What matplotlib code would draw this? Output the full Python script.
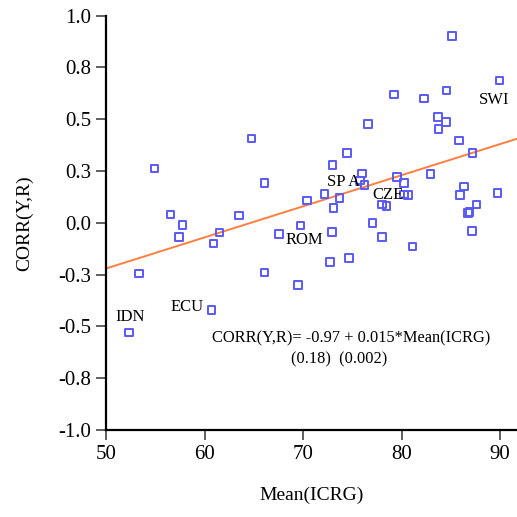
import matplotlib
matplotlib.use("Agg")
import matplotlib.pyplot as plt
import numpy as np

plt.rcParams['font.family'] = ['Liberation Serif', 'DejaVu Serif']

# mean ICRG rating and CORR(Y,R) per country
icrg = [54.88, 56.54, 57.76, 57.39, 61.52, 60.91, 63.51, 53.35, 60.67, 52.28,
        64.77, 66.09, 66.09, 69.45, 69.75, 67.55, 70.42, 72.19, 72.76, 74.69,
        72.96, 73.10, 73.71, 73.00, 74.46, 76.56, 76.01, 75.78, 76.25, 77.03,
        78.01, 78.49, 78.04, 79.54, 80.25, 80.25, 80.68, 81.13, 79.23, 82.31,
        82.96, 83.70, 84.54, 83.77, 84.58, 85.12, 85.86, 87.21, 86.34, 85.91,
        87.63, 86.78, 86.92, 87.16, 89.73, 89.97]
corr = [0.263, 0.041, -0.010, -0.068, -0.046, -0.099, 0.035, -0.245, -0.422, -0.530,
        0.408, 0.192, -0.239, -0.301, -0.012, -0.055, 0.107, 0.138, -0.189, -0.171,
        -0.043, 0.072, 0.120, 0.279, 0.337, 0.476, 0.239, 0.205, 0.183, -0.001,
        0.088, 0.080, -0.067, 0.220, 0.191, 0.136, 0.133, -0.114, 0.619, 0.600,
        0.237, 0.512, 0.488, 0.453, 0.638, 0.901, 0.398, 0.338, 0.175, 0.134,
        0.088, 0.049, 0.051, -0.039, 0.144, 0.688]

# labelled countries and where their names sit
lab_names = ['IDN', 'ECU', 'SP A', 'CZE', 'ROM', 'SWI']
lab_x = [50.9, 56.5, 72.45, 77.0, 68.2, 87.9]
lab_y = [-0.455, -0.405, 0.195, 0.135, -0.082, 0.595]

intercept = -0.97
slope = 0.015

fig = plt.figure(figsize=(5.17, 5.17), dpi=100)
ax = fig.add_axes([106.3 / 517, 87 / 517, 410.7 / 517, 414.3 / 517])

ax.scatter(icrg, corr, marker='s', s=30, facecolors='none',
           edgecolors='#5a5af5', linewidths=1.4, zorder=3)

xs = np.array([50, 91.73])
ax.plot(xs, intercept + slope * xs, color='#ff7f40', lw=1.4, zorder=2)

for n, x, y in zip(lab_names, lab_x, lab_y):
    ax.text(x, y, n, fontsize=12, va='center', ha='left')

ax.text(60.7, -0.557, 'CORR(Y,R)= -0.97 + 0.015*Mean(ICRG)', fontsize=11.8,
        va='center', ha='left')
ax.text(68.8, -0.66, '(0.18)  (0.002)', fontsize=11.8, va='center', ha='left')

ax.set_xlim(50, 91.73)
ax.set_ylim(-1.0, 1.0)
ax.set_xticks([50, 60, 70, 80, 90])
yt = [1.0, 0.75, 0.5, 0.25, 0.0, -0.25, -0.5, -0.75, -1.0]
ax.set_yticks(yt)
ax.set_yticklabels(['1.0', '0.8', '0.5', '0.3', '0.0', '-0.3', '-0.5', '-0.8', '-1.0'])
ax.tick_params(labelsize=15, length=7, width=1.2, color='#444444', pad=4)

ax.spines['top'].set_visible(False)
ax.spines['right'].set_visible(False)
ax.spines['left'].set_linewidth(1.6)
ax.spines['bottom'].set_linewidth(1.6)

ax.set_xlabel('Mean(ICRG)', fontsize=14, labelpad=16)
ax.set_ylabel('CORR(Y,R)', fontsize=14, labelpad=18)

fig.savefig('out.png', dpi=100)
